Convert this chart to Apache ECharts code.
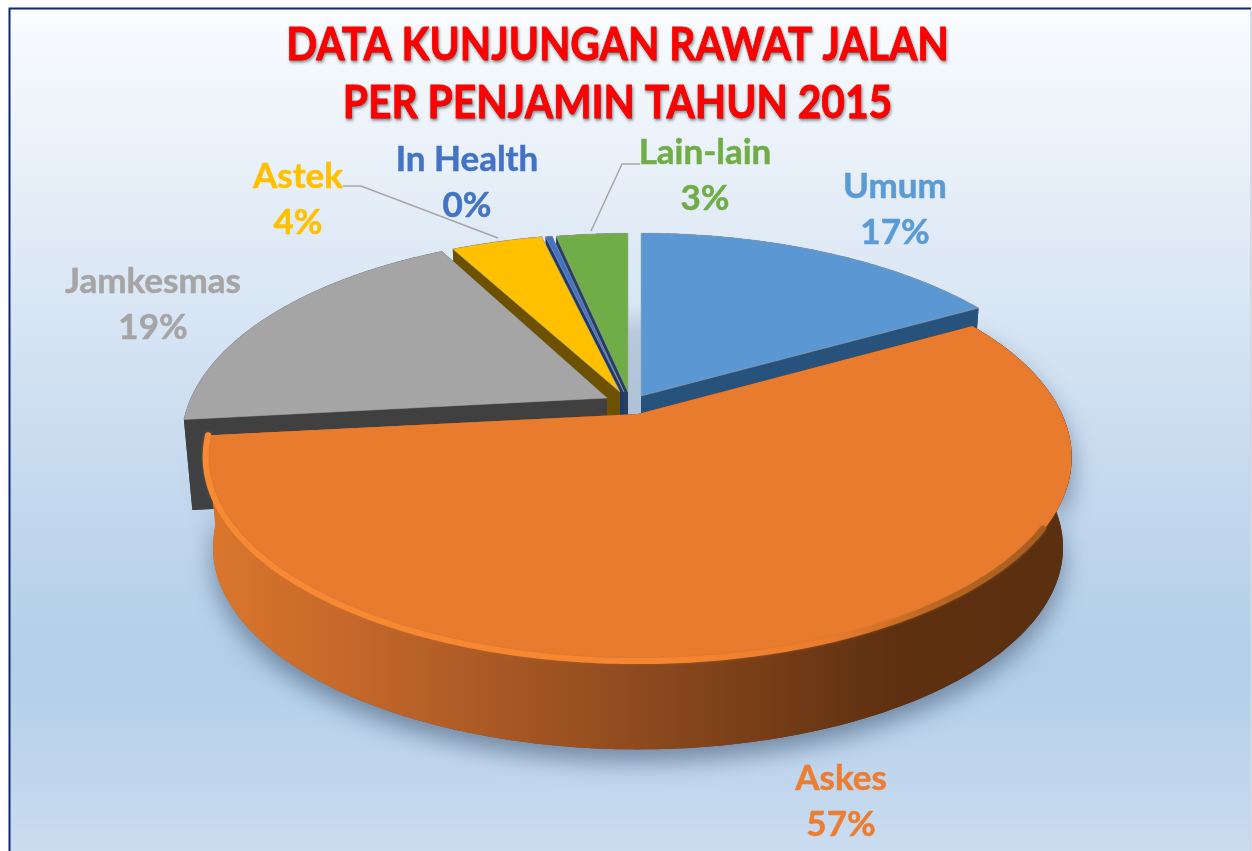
<!DOCTYPE html>
<html><head><meta charset="utf-8">
<style>html,body{margin:0;padding:0;background:#fff}#c{width:1252px;height:851px}</style>
<script src="https://cdn.jsdelivr.net/npm/echarts@6/dist/echarts.min.js"></script>
</head><body><div id="c"></div>
<script>
// data
const categories = ['Umum','Askes','Jamkesmas','Astek','In Health','Lain-lain'];
const shares = [16.8,56.5,18.9,4.2,0.3,3.3];
const titleLines = ['DATA KUNJUNGAN RAWAT JALAN','PER PENJAMIN TAHUN 2015'];
// style
const topColors  = ['#5b97d2','#e87b2e','#a5a5a5','#ffc000','#4472c4','#70ad47'];
const labelColors= ['#5b9bd5','#ed7d31','#a5a5a5','#ffc000','#4472c4','#70ad47'];
const wallColors = ['#27527b',null,'#404040','#6b5100','#1f3a68','#26405f'];
const paintOrder = [5,4,0,3,2,1]; // back to front
// layout: apex of each exploded slice, radii of the tilted disc
const apex = [[641,396],[638,414],[607,398],[620,392],[624,392],[628,392]];
const radY = [197,197,197,192,192,192];
const radX = [428,424,416,421,421,421];
const TILT = 0.21, BOTTOM_SCALE = 0.98, DEPTH = 91;
const labelPos = [[895,210],[841,802],[153,305],[298,200],[467,183],[705,176]];
const leaders = {3:[[343,186],[361,186],[498,238]],5:[[640,164],[622,164],[591,231]]};

const total = shares.reduce((a,b)=>a+b,0);
const starts = []; let acc=0;
shares.forEach(s=>{starts.push(acc/total*Math.PI*2);acc+=s;});

function pt(i,t,lower){
  const u=Math.sin(t),v=-Math.cos(t),w=1-TILT*v;
  const dx=radX[i]*u/w,dy=radY[i]*v/w,[ax,ay]=apex[i];
  return lower?[ax+BOTTOM_SCALE*dx,ay+BOTTOM_SCALE*dy+DEPTH]:[ax+dx,ay+dy];
}
function arc(i,a,b,lower){
  const out=[],n=Math.max(4,Math.ceil((b-a)*80));
  for(let k=0;k<=n;k++)out.push(pt(i,a+(b-a)*k/n,lower));
  return out;
}
const askesWall={type:'linear',x:205,y:0,x2:1071,y2:0,global:true,colorStops:[
  {offset:0,color:'#dc772c'},{offset:.2,color:'#c0652a'},{offset:.5,color:'#8e4a1e'},{offset:.8,color:'#5e3010'},{offset:1,color:'#5a3010'}]};
const askesRim={type:'linear',x:205,y:0,x2:1071,y2:0,global:true,colorStops:[
  {offset:0,color:'#f88a34'},{offset:.55,color:'#f6852f'},{offset:.72,color:'#ea7c2e'},{offset:.86,color:'#b5641f'},{offset:.97,color:'#a85e20'},{offset:1,color:'#a85e20'}]};

function renderItem(params,api){
  const i=api.value(1), share=api.value(0);
  const a=starts[i], b=a+share/total*Math.PI*2;
  const z=paintOrder.indexOf(i)*10;
  const kids=[];
  const ax=apex[i];
  const topArc=arc(i,a,b,false);
  const lowArc=arc(i,a,b,true);
  const apexLow=[ax[0],ax[1]+DEPTH];
  const wallFill=wallColors[i]||askesWall;
  // body of the slice (walls)
  kids.push({type:'polygon',z2:z,shape:{points:[ax,...topArc]},style:{fill:wallFill}});
  kids.push({type:'polygon',z2:z,shape:{points:[apexLow,...lowArc]},style:{fill:wallFill}});
  kids.push({type:'polygon',z2:z,shape:{points:[...topArc,...lowArc.slice().reverse()]},style:i===1
     ?{fill:wallFill,shadowBlur:24,shadowColor:'rgba(40,60,90,0.5)',shadowOffsetY:12}:{fill:wallFill}});
  kids.push({type:'polygon',z2:z,shape:{points:[ax,topArc[0],lowArc[0],apexLow]},style:{fill:wallFill}});
  kids.push({type:'polygon',z2:z,shape:{points:[ax,topArc[topArc.length-1],lowArc[lowArc.length-1],apexLow]},style:{fill:wallFill}});
  // top face
  kids.push({type:'polygon',z2:z+1,shape:{points:[ax,...topArc]},
     style:{fill:topColors[i],stroke:i===1?null:'rgba(170,170,170,0.55)',lineWidth:1,lineJoin:'round'}});
  if(i===1){
    // bevelled rim along the front of the big slice
    const rimStart=a+(b-a)*0.3;
    const rim=arc(i,rimStart,b,false).map(p=>[ax[0]+(p[0]-ax[0])*0.997,ax[1]+(p[1]-ax[1])*0.991]);
    kids.push({type:'polyline',z2:z+2,shape:{points:rim},
      style:{fill:null,stroke:askesRim,lineWidth:6,lineCap:'round',shadowBlur:3,shadowColor:'rgba(200,110,45,0.5)'}});
  }
  // label
  const lp=labelPos[i];
  kids.push({type:'text',z2:200,style:{x:lp[0],y:lp[1],text:categories[i]+'\n'+Math.round(share)+'%',
     fill:labelColors[i],stroke:labelColors[i],lineWidth:0.5,font:'bold 35px Lato',lineHeight:46,align:'center',verticalAlign:'middle'}});
  if(leaders[i]) kids.push({type:'polyline',z2:150,shape:{points:leaders[i]},style:{fill:null,stroke:'#a6a6a6',lineWidth:1.5}});
  return {type:'group',children:kids};
}

const titleY=[45,103];
const chart=echarts.init(document.getElementById('c'),null,{renderer:'canvas'});
chart.setOption({
  animation:false,
  graphic:[
    {type:'rect',z:-10,shape:{x:10,y:9,width:1241,height:842},
      style:{fill:{type:'linear',x:0,y:0,x2:0,y2:1,colorStops:[
        {offset:0,color:'#fafcfe'},{offset:.25,color:'#e2ecf7'},{offset:.55,color:'#c6daef'},{offset:.78,color:'#b2cee8'},{offset:1,color:'#cadcf0'}]}}},
    {type:'polyline',z:-9,shape:{points:[[9.5,851],[9.5,8.5],[1251,8.5]]},style:{fill:null,stroke:'#0b2a6b',lineWidth:2}},
    {type:'line',z:-9,shape:{x1:1251,y1:10,x2:1251,y2:851},style:{stroke:'#c9d2de',lineWidth:1.5}},
    {type:'rect',z:-8,shape:{x:628,y:305,width:14,height:112},
      style:{fill:{type:'linear',x:0,y:0,x2:0,y2:1,colorStops:[{offset:0,color:'rgba(120,140,165,0)'},{offset:.25,color:'rgba(120,140,165,0.3)'},{offset:1,color:'rgba(120,140,165,0.35)'}]}}},
    ...titleLines.map((t,k)=>({type:'text',z:50,x:617.5,y:titleY[k],scaleX:0.886,
      style:{text:t,x:0,y:0,align:'center',verticalAlign:'middle',font:'bold 46px Lato',fill:'#ff0000',stroke:'#ff0000',lineWidth:0.8,
        textShadowColor:'rgba(0,0,0,0.4)',textShadowBlur:3,textShadowOffsetX:1,textShadowOffsetY:2}}))
  ],
  series:[{type:'custom',coordinateSystem:'none',renderItem,silent:true,
    data:shares.map((s,i)=>[s,i]),encode:{}}]
});
</script></body></html>
